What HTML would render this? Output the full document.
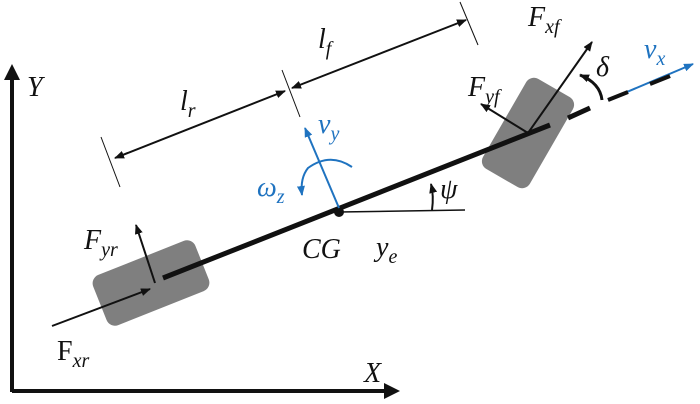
<!DOCTYPE html>
<html><head><style>
html,body{margin:0;padding:0;background:#fff;}
svg{display:block}
text{font-family:"Liberation Serif",serif;font-style:italic;font-size:28px;fill:#111}
.s{font-size:20px}
.b{fill:#1f73c0}
</style></head><body>
<svg width="700" height="404" viewBox="0 0 700 404">
<defs>
<marker id="a" markerWidth="10" markerHeight="8" refX="9" refY="4" orient="auto" markerUnits="userSpaceOnUse"><path d="M0,0 L10,4 L0,8 Z" fill="#111"/></marker>
<marker id="ab" markerWidth="10" markerHeight="8" refX="9" refY="4" orient="auto" markerUnits="userSpaceOnUse"><path d="M0,0 L10,4 L0,8 Z" fill="#1f73c0"/></marker>
<marker id="ar" markerWidth="10" markerHeight="8" refX="1" refY="4" orient="auto" markerUnits="userSpaceOnUse"><path d="M10,0 L0,4 L10,8 Z" fill="#111"/></marker>
</defs>
<line x1="12" y1="392" x2="12" y2="72" stroke="#111" stroke-width="4"/>
<path d="M4,80 L12,64 L20,80 Z" fill="#111"/>
<line x1="12" y1="391" x2="390" y2="391" stroke="#111" stroke-width="4"/>
<path d="M384,383 L400,391 L384,399 Z" fill="#111"/>
<text x="27" y="96">Y</text>
<text x="364" y="382">X</text>
<rect x="-55" y="-27" width="110" height="54" rx="9" fill="#7f7f7f" transform="translate(151,283) rotate(-21.7)"/>
<rect x="-27" y="-52" width="54" height="104" rx="9" fill="#7f7f7f" transform="translate(528,133) rotate(30)"/>
<line x1="163" y1="278" x2="550" y2="125" stroke="#111" stroke-width="5"/>
<circle cx="339" cy="212" r="5" fill="#111"/>
<line x1="101" y1="137" x2="120" y2="187" stroke="#111" stroke-width="1"/>
<line x1="282" y1="70" x2="300" y2="117" stroke="#111" stroke-width="1"/>
<line x1="460" y1="2" x2="478" y2="45" stroke="#111" stroke-width="1"/>
<line x1="115" y1="158" x2="285" y2="91" stroke="#111" stroke-width="2" marker-start="url(#ar)" marker-end="url(#a)"/>
<line x1="292" y1="88" x2="466" y2="20" stroke="#111" stroke-width="2" marker-start="url(#ar)" marker-end="url(#a)"/>
<text x="180" y="110">l<tspan class="s" dy="7">r</tspan></text>
<text x="318" y="48">l<tspan class="s" dy="7">f</tspan></text>
<line x1="339" y1="208" x2="305" y2="128" stroke="#1f73c0" stroke-width="2" marker-end="url(#ab)"/>
<path d="M352,167 Q330,152 308,168 Q300,178 302,195" fill="none" stroke="#1f73c0" stroke-width="2" marker-end="url(#ab)"/>
<text class="b" x="318" y="133">v<tspan class="s b" dy="7">y</tspan></text>
<text class="b" x="257" y="196">ω<tspan class="s b" dy="7">z</tspan></text>
<line x1="339" y1="212" x2="465" y2="210" stroke="#111" stroke-width="1.5"/>
<path d="M432,210 Q434,196 431,184" fill="none" stroke="#111" stroke-width="2" marker-end="url(#a)"/>
<text x="440" y="198">ψ</text>
<text x="302" y="258">CG</text>
<text x="376" y="256">y<tspan class="s" dy="7">e</tspan></text>
<line x1="528" y1="133" x2="592" y2="42" stroke="#111" stroke-width="2" marker-end="url(#a)"/>
<line x1="528" y1="133" x2="481" y2="104" stroke="#111" stroke-width="2" marker-end="url(#a)"/>
<path d="M602,100 Q600,83 580,75" fill="none" stroke="#111" stroke-width="3" marker-end="url(#a)"/>
<line x1="568" y1="118" x2="590" y2="108" stroke="#111" stroke-width="5"/>
<line x1="608" y1="100" x2="693" y2="64" stroke="#1f73c0" stroke-width="2" marker-end="url(#ab)"/>
<line x1="608" y1="100" x2="628" y2="92" stroke="#111" stroke-width="4"/>
<line x1="650" y1="84" x2="670" y2="76" stroke="#111" stroke-width="4"/>
<text x="528" y="26">F<tspan class="s" dy="7">xf</tspan></text>
<text x="468" y="96">F<tspan class="s" dy="7">yf</tspan></text>
<text x="596" y="76">δ</text>
<text class="b" x="644" y="58">v<tspan class="s b" dy="7">x</tspan></text>
<line x1="155" y1="283" x2="136" y2="225" stroke="#111" stroke-width="2" marker-end="url(#a)"/>
<line x1="52" y1="326" x2="150" y2="289" stroke="#111" stroke-width="2" marker-end="url(#a)"/>
<text x="84" y="249">F<tspan class="s" dy="7">yr</tspan></text>
<text x="57" y="360" style="font-style:normal">F<tspan class="s" dy="7" style="font-style:italic">xr</tspan></text>
</svg>
</body></html>
